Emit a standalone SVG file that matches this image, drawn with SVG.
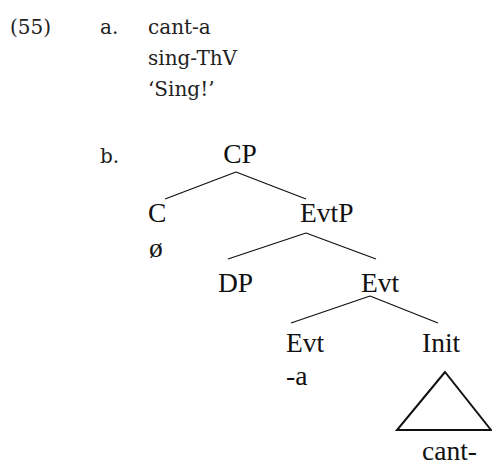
<svg xmlns="http://www.w3.org/2000/svg" width="492" height="465" viewBox="0 0 492 465">
  <style>
    .ex { font-family: 'DejaVu Serif', serif; font-size: 20px; fill: #222; }
    .nd { font-family: 'Liberation Serif', serif; font-size: 27.5px; fill: #111; }
    .br { stroke: #111; stroke-width: 1.3; fill: none; }
  </style>
  <rect width="492" height="465" fill="#fff"/>

  <!-- example number and gloss -->
  <g id="example-a">
    <text class="ex" x="10" y="34">(55)</text>
    <text class="ex" x="100" y="34">a.</text>
    <text class="ex" x="148" y="34">cant-a</text>
    <text class="ex" x="148" y="65">sing-ThV</text>
    <text class="ex" x="148" y="96">‘Sing!’</text>
    <text class="ex" x="100" y="163">b.</text>
  </g>

  <!-- tree branches -->
  <g id="connectors" class="br">
    <path d="M236 172 L165 199 M236 172 L306 199"/>
    <path d="M306 233 L228 259 M306 233 L376 259"/>
    <path d="M370 296 L291 323 M370 296 L438 323"/>
  </g>

  <g id="node-CP"><text class="nd" x="240" y="163" text-anchor="middle">CP</text></g>
  <g id="node-C">
    <text class="nd" x="148" y="222">C</text>
    <text class="nd" x="149" y="257" font-size="21">ø</text>
  </g>
  <g id="node-EvtP"><text class="nd" x="300" y="222">EvtP</text></g>
  <g id="node-DP"><text class="nd" x="218" y="292">DP</text></g>
  <g id="node-Evt-bar"><text class="nd" x="361" y="292">Evt</text></g>
  <g id="node-Evt">
    <text class="nd" x="286" y="352">Evt</text>
    <text class="nd" x="286" y="385">-a</text>
  </g>
  <g id="node-Init">
    <text class="nd" x="422" y="352">Init</text>
    <path d="M445 372 L397 430 L491 430 Z" stroke="#111" stroke-width="2" fill="none"/>
    <text class="nd" x="422" y="460">cant-</text>
  </g>
</svg>
